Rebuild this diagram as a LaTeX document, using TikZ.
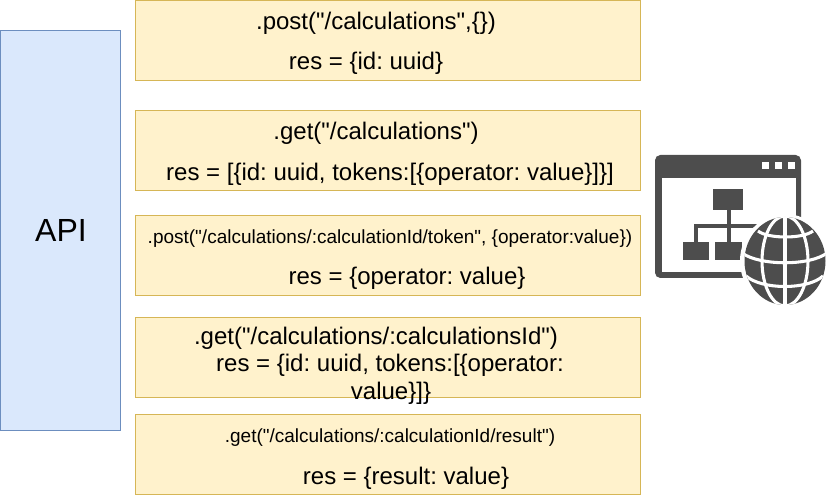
\documentclass[tikz,border=0pt]{standalone}
\usepackage{fontspec}
\setmainfont{Liberation Sans}[Ligatures=TeXOff]
\frenchspacing
\usetikzlibrary{
    positioning
}
\definecolor{apifill}{RGB}{218, 232, 252}
\definecolor{apidraw}{RGB}{108, 142, 191}
\definecolor{callfill}{RGB}{255, 242, 204}
\definecolor{calldraw}{RGB}{214, 182, 86}
\definecolor{iconcolor}{RGB}{77, 77, 77}

\begin{document}
\begin{tikzpicture}[
    x=0.75pt,
    y=-0.75pt,
    % Endpoint box
    callbox/.style={
        rectangle,
        draw=calldraw,
        fill=callfill,
        line width=0.75pt,
        outer sep=0pt,
        minimum width=505*0.75pt,
        minimum height=80*0.75pt,
        anchor=north west
    },
    % Blue box on the left
    apibox/.style={
        rectangle,
        draw=apidraw,
        fill=apifill,
        line width=0.75pt,
        outer sep=0pt,
        minimum width=120*0.75pt,
        minimum height=400*0.75pt,
        anchor=north west,
        font=\fontsize{24pt}{28pt}\selectfont
    },
    % Text sizes
    calltext/.style={
        font=\fontsize{18pt}{22pt}\selectfont,
        inner sep=0pt,
        align=center
    },
    smalltext/.style={
        font=\fontsize{14.25pt}{17pt}\selectfont,
        inner sep=0pt
    },
    % Icon parts
    iconpart/.style={
        fill=iconcolor,
        draw=none
    },
    iconwhite/.style={
        fill=white,
        draw=none
    },
    globeline/.style={
        draw=white,
        line width=2.3pt
    }
]

\useasboundingbox (0,0) rectangle (826,495);

% API box
\node[apibox] (api) at (0.5,30.5) {};
\node[font=\fontsize{24pt}{28pt}\selectfont, inner sep=0pt] (apilabel) at (61,230) {API};

% Endpoint boxes
\node[callbox] (postcalc) at (135,0.5) {};
\node[callbox] (getcalc) at (135,110.5) {};
\node[callbox] (posttoken) at (135,215.5) {};
\node[callbox] (getone) at (135,318) {};
\node[callbox] (getresult) at (135,414.5) {};

% Endpoint texts
\node[calltext] (postreq) at (376,23.5) {.post("/calculations",\{\})};
\node[calltext] (postres) at (366,63) {res = \{id: uuid\}};

\node[calltext] (getreq) at (376,133.5) {.get("/calculations")};
\node[calltext] (getres) at (390,174) {res = [\{id: uuid, tokens:[\{operator: value\}]\}]};

\node[smalltext] (tokenreq) at (390,239) {.post("/calculations/:calculationId/token", \{operator:value\})};
\node[calltext] (tokenres) at (407,278.5) {res = \{operator: value\}};

\node[calltext] (onereq) at (376,338.5) {.get("/calculations/:calculationsId")};
\node[calltext] (oneres) at (390,365.5) {res = \{id: uuid, tokens:[\{operator:};
\node[calltext] (oneval) at (391,393) {value\}]\}};

\node[smalltext] (resultreq) at (390,438) {.get("/calculations/:calculationId/result")};
\node[calltext] (resultres) at (406,478.5) {res = \{result: value\}};

% Window
\fill[iconpart, rounded corners=4pt] (655,155) rectangle (801,278);
\fill[iconwhite] (662,178) rectangle (796,272);
\foreach \dotx in {762,775,788} {
    \fill[iconwhite] (\dotx,162) rectangle ++(7,7);
}

% Site tree
\fill[iconpart] (713,189) rectangle (743,210);
\fill[iconpart] (727,210) rectangle (731,242);
\fill[iconpart] (694,224) rectangle (760,228);
\fill[iconpart] (694,224) rectangle (698,242);
\fill[iconpart] (683,242) rectangle (709,260);
\fill[iconpart] (715,242) rectangle (742,260);

% Globe
\fill[iconwhite] (785,261) ellipse [x radius=45, y radius=47];
\fill[iconpart] (785,261) ellipse [x radius=40.5, y radius=44];
\begin{scope}
    \clip (785,261) ellipse [x radius=40.5, y radius=44];
    \draw[globeline] (785,261) ellipse [x radius=23, y radius=45];
    \draw[globeline] (785,215) -- (785,307);
    \draw[globeline] (758,231) .. controls (768,239) and (803,239) .. (813,231);
    \draw[globeline] (742,253) .. controls (760,266) and (810,266) .. (827,253);
    \draw[globeline] (746,276) .. controls (762,290) and (808,290) .. (823,276);
\end{scope}

\end{tikzpicture}
\end{document}
